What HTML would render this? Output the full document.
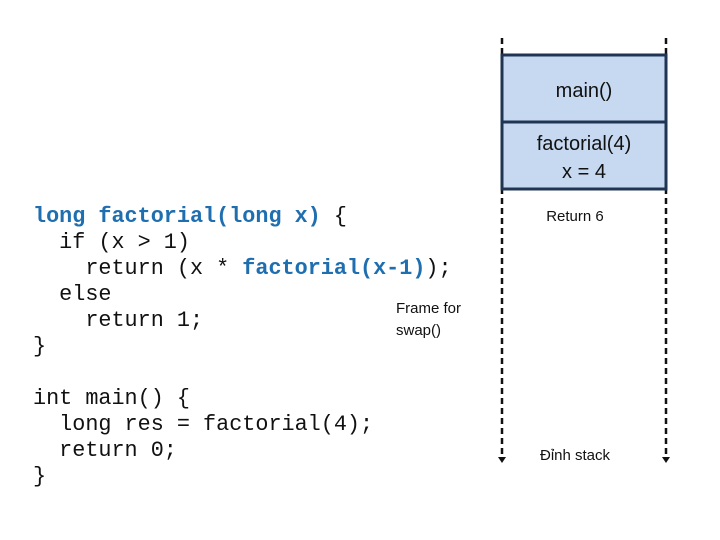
<!DOCTYPE html>
<html><head><meta charset="utf-8"><style>
body{margin:0;width:720px;height:540px;background:#fff;position:relative;overflow:hidden;font-family:"Liberation Sans",sans-serif}
.code{position:absolute;left:33px;top:204px;font-family:"Liberation Mono",monospace;font-size:21.8px;line-height:26px;white-space:pre;color:#111}
.b{color:#1f6fb0;font-weight:bold}
.t{position:absolute;font-size:15px;color:#111}
</style></head><body>
<svg width="720" height="540" style="position:absolute;left:0;top:0">
<line x1="502" y1="38" x2="502" y2="458" stroke="#111" stroke-width="2.5" stroke-dasharray="6,4"/>
<line x1="666" y1="38" x2="666" y2="458" stroke="#111" stroke-width="2.5" stroke-dasharray="6,4"/>
<polygon points="498,457 506,457 502,463" fill="#111"/>
<polygon points="662,457 670,457 666,463" fill="#111"/>
<rect x="502" y="55" width="164" height="134" fill="#c6d9f0" stroke="#1f3553" stroke-width="3"/>
<line x1="502" y1="122" x2="666" y2="122" stroke="#1f3553" stroke-width="3"/>
<text x="584" y="97" font-size="20" text-anchor="middle" font-family="Liberation Sans" fill="#111">main()</text>
<text x="584" y="150" font-size="20" text-anchor="middle" font-family="Liberation Sans" fill="#111">factorial(4)</text>
<text x="584" y="178" font-size="20" text-anchor="middle" font-family="Liberation Sans" fill="#111">x = 4</text>
<text x="575" y="221" font-size="15" text-anchor="middle" font-family="Liberation Sans" fill="#111">Return 6</text>
<text x="575" y="460" font-size="15" text-anchor="middle" font-family="Liberation Sans" fill="#111">Đỉnh stack</text>
<text x="396" y="313" font-size="15" font-family="Liberation Sans" fill="#111">Frame for</text>
<text x="396" y="335" font-size="15" font-family="Liberation Sans" fill="#111">swap()</text>
</svg>
<div class="code"><span class="b">long factorial(long x)</span> {
  if (x &gt; 1)
    return (x * <span class="b">factorial(x-1)</span>);
  else
    return 1;
}

int main() {
  long res = factorial(4);
  return 0;
}</div>
</body></html>
